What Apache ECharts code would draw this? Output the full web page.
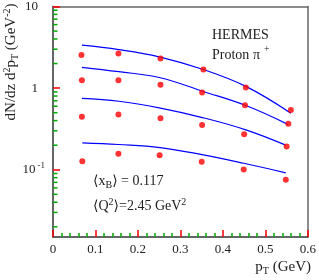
<!DOCTYPE html>
<html>
<head>
<meta charset="utf-8">
<script src="https://cdn.jsdelivr.net/npm/echarts@6/dist/echarts.min.js"></script>
<style>
html,body{margin:0;padding:0;background:#fff;}
#chart{width:319px;height:280px;}
</style>
</head>
<body>
<div id="chart"></div>
<script>
// Data points (pT in GeV, dN/dz d2pT in GeV^-2), four z bins
const ptA = [0.067, 0.154, 0.253, 0.354, 0.454, 0.560];
const ptB = [0.068, 0.154, 0.253, 0.351, 0.452, 0.554];
const ptC = [0.068, 0.154, 0.253, 0.351, 0.450, 0.550];
const ptD = [0.069, 0.154, 0.251, 0.350, 0.449, 0.548];
const dataA = [2.54, 2.66, 2.31, 1.69, 1.02, 0.54];
const dataB = [1.25, 1.25, 1.10, 0.887, 0.617, 0.366];
const dataC = [0.445, 0.476, 0.426, 0.353, 0.272, 0.193];
const dataD = [0.127, 0.157, 0.151, 0.125, 0.101, 0.0755];
// Model curves
const curveX1 = [0.068, 0.155, 0.250, 0.354, 0.454, 0.560];
const curveX2 = [0.068, 0.155, 0.250, 0.354, 0.454, 0.553];
const curveX3 = [0.068, 0.155, 0.250, 0.354, 0.454, 0.548];
const curveX4 = [0.069, 0.154, 0.252, 0.351, 0.449, 0.548];
const curve1 = [3.36, 2.97, 2.42, 1.69, 1.05, 0.493];
const curve2 = [1.80, 1.59, 1.35, 0.91, 0.612, 0.36];
const curve3 = [0.75, 0.69, 0.573, 0.433, 0.308, 0.200];
const curve4 = [0.214, 0.204, 0.187, 0.153, 0.120, 0.0917];
// Axis ticks
const xTicks = [0, 0.1, 0.2, 0.3, 0.4, 0.5, 0.6];
const yMinorTicks = [0.02,0.03,0.04,0.05,0.06,0.07,0.08,0.09,0.2,0.3,0.4,0.5,0.6,0.7,0.8,0.9,2,3,4,5,6,7,8,9];

const zip = (xs, ys) => xs.map((x, i) => [x, ys[i]]);
const serif = '"Liberation Serif", "DejaVu Serif", serif';

const chart = echarts.init(document.getElementById('chart'));

const dotSeries = [dataA, dataB, dataC, dataD].map((d, i) => ({
  type: 'scatter', data: zip([ptA, ptB, ptC, ptD][i], d),
  symbol: 'circle', symbolSize: 6, itemStyle: {color: '#ff0000'}, z: 4
}));
const lineSeries = [curve1, curve2, curve3, curve4].map((d, i) => ({
  type: 'line', data: zip([curveX1, curveX2, curveX3, curveX4][i], d),
  showSymbol: false, smooth: 0.4, lineStyle: {color: '#0000ff', width: 1.2}, z: 3
}));

const supRich = {
  n: {fontFamily: serif, fontSize: 13, color: '#222'},
  np: {fontFamily: serif, fontSize: 13, color: '#222', padding: [0, 7, 0, 0]},
  s: {fontFamily: serif, fontSize: 9, color: '#222', padding: [0, 0, 9, 2]}
};

const frameAxis = {
  show: true, axisLabel: {show: false}, axisTick: {show: false}, splitLine: {show: false},
  axisLine: {show: true, onZero: false, lineStyle: {color: '#666', width: 1.5}}
};

chart.setOption({
  animation: false,
  grid: {left: 53, right: 8, top: 5, bottom: 43},
  xAxis: [{
    type: 'value', min: xTicks[0], max: xTicks[xTicks.length - 1], interval: 0.1,
    axisLine: {show: true, onZero: false, lineStyle: {color: '#333', width: 1.5}},
    axisTick: {show: true, inside: true, length: 7, lineStyle: {color: '#f00', width: 1.5}},
    minorTick: {show: true, splitNumber: 5, length: 4, lineStyle: {color: '#0a0', width: 1.5}},
    splitLine: {show: false},
    axisLabel: {margin: 6, fontFamily: serif, fontSize: 13, color: '#222',
      formatter: v => (Math.abs(v) < 1e-9 ? '0' : v.toFixed(1))}
  }, Object.assign({type: 'value', position: 'top', min: 0, max: 0.6}, frameAxis)],
  yAxis: [{
    type: 'log', logBase: 10, min: 0.015, max: 10,
    axisLine: {show: true, lineStyle: {color: '#333', width: 1.5}},
    axisTick: {show: true, inside: true, length: 7, lineStyle: {color: '#f00', width: 1.5}},
    splitLine: {show: false},
    axisLabel: {
      margin: 8, showMinLabel: false, rich: supRich,
      formatter: v => {
        const e = Math.round(Math.log10(v));
        if (e === 1) return '{np|10}';
        if (e === 0) return '{np|1}';
        if (e === -1) return '{n|10}{s|-1}';
        return '';
      }
    }
  }, Object.assign({type: 'log', position: 'right', min: 0.015, max: 10}, frameAxis)],
  series: [
    ...lineSeries,
    ...dotSeries,
    {
      type: 'custom', coordinateSystem: 'cartesian2d', silent: true, clip: false, z: 5,
      data: yMinorTicks.map(v => [0, v]), encode: {x: 0, y: 1},
      renderItem: (params, api) => {
        const p = api.coord([0, api.value(1)]);
        return {type: 'line', shape: {x1: p[0], y1: p[1], x2: p[0] + 4.5, y2: p[1]},
                style: {stroke: '#0a0', lineWidth: 1.5}};
      }
    }
  ],
  graphic: [
    {type: 'text', left: 212, top: 28, style: {text: 'HERMES', font: '14px ' + serif, fill: '#222'}},
    {type: 'text', left: 212, top: 48, style: {text: 'Proton', font: '14px ' + serif, fill: '#222'}},
    {type: 'text', left: 253, top: 48, style: {text: 'π', font: '14px ' + serif, fill: '#222'}},
    {type: 'text', left: 264, top: 44, style: {text: '+', font: '10px ' + serif, fill: '#222'}},
    {type: 'text', left: 93, top: 174, style: {
      text: '⟨x{sub|B}⟩ = 0.117', font: '14px ' + serif, fill: '#222',
      rich: {sub: {fontFamily: serif, fontSize: 10, fill: '#222', padding: [8, 0, 0, 0]}}}},
    {type: 'text', left: 93, top: 197, style: {
      text: '⟨Q{sup|2}⟩=2.45 GeV{sup|2}', font: '14px ' + serif, fill: '#222',
      rich: {sup: {fontFamily: serif, fontSize: 10, fill: '#222', padding: [0, 0, 8, 0]}}}},
    {type: 'text', right: 8, top: 260, style: {
      text: 'p{sub|T} (GeV)', font: '15px ' + serif, fill: '#222',
      rich: {sub: {fontFamily: serif, fontSize: 10, fill: '#222', padding: [8, 0, 0, 0]}}}},
    {type: 'text', x: 11, y: 62, rotation: Math.PI / 2, style: {
      text: 'dN/dz d{sup|2}p{sub|T} (GeV{sup|-2})', font: '15px ' + serif, fill: '#222',
      align: 'center', verticalAlign: 'middle',
      rich: {
        sup: {fontFamily: serif, fontSize: 10, fill: '#222', padding: [0, 0, 8, 0]},
        sub: {fontFamily: serif, fontSize: 10, fill: '#222', padding: [8, 0, 0, 0]}
      }}}
  ]
});
</script>
</body>
</html>
